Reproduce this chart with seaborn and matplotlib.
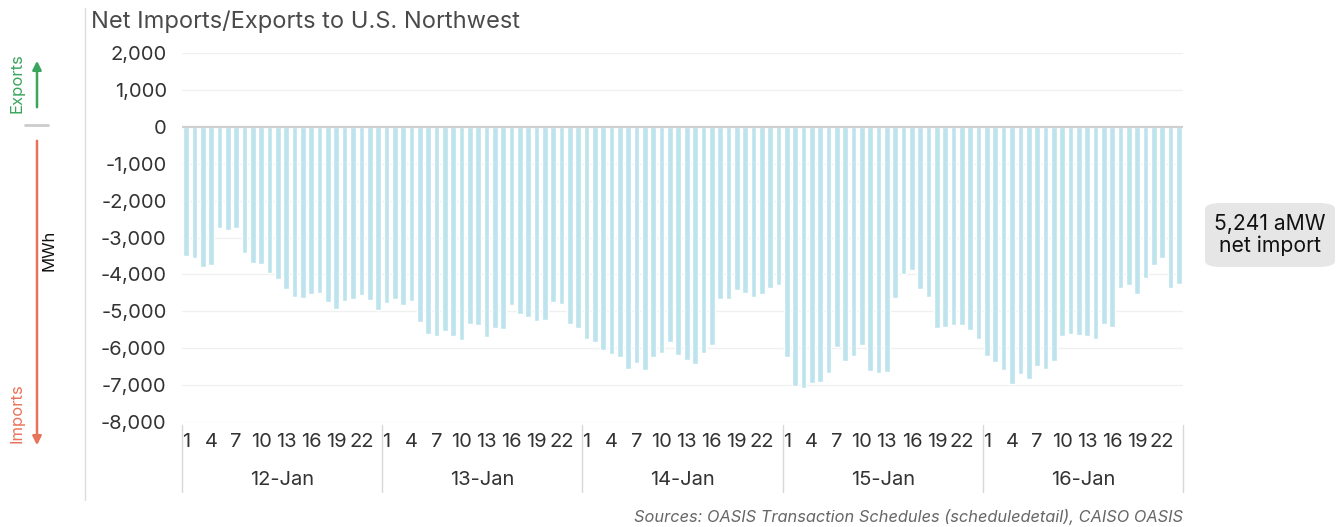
import numpy as np
import pandas as pd
import matplotlib
matplotlib.use("Agg")
import matplotlib.pyplot as plt
import matplotlib.transforms as mtransforms
from matplotlib.patches import FancyBboxPatch, FancyArrowPatch
import seaborn as sns

days = ["12-Jan", "13-Jan", "14-Jan", "15-Jan", "16-Jan"]
hours = list(range(1, 25))
hour_ticks = [1, 4, 7, 10, 13, 16, 19, 22]

jan12 = [-3505, -3560, -3790, -3755, -2750, -2785, -2730, -3425, -3700, -3710, -3975, -4115,
         -4395, -4620, -4650, -4520, -4495, -4755, -4930, -4730, -4665, -4550, -4695, -4965]
jan13 = [-4775, -4660, -4840, -4730, -5295, -5620, -5665, -5530, -5660, -5765, -5350, -5360,
         -5695, -5450, -5485, -4840, -5070, -5145, -5250, -5245, -4755, -4810, -5335, -5460]
jan14 = [-5755, -5840, -6045, -6160, -6245, -6575, -6395, -6595, -6245, -6125, -5830, -6190,
         -6325, -6425, -6125, -5920, -4660, -4675, -4430, -4505, -4615, -4530, -4380, -4280]
jan15 = [-6250, -7020, -7090, -6955, -6910, -6665, -5965, -6335, -6200, -5910, -6630, -6660,
         -6640, -4630, -3980, -3875, -4395, -4620, -5460, -5425, -5380, -5380, -5495, -5740]
jan16 = [-6205, -6370, -6595, -6975, -6695, -6830, -6470, -6575, -6335, -5665, -5610, -5640,
         -5665, -5740, -5350, -5430, -4360, -4295, -4520, -4110, -3750, -3560, -4360, -4270]

y_ticks = [2000, 1000, 0, -1000, -2000, -3000, -4000, -5000, -6000, -7000, -8000]
title = "Net Imports/Exports to U.S. Northwest"
source = "Sources: OASIS Transaction Schedules (scheduledetail), CAISO OASIS"
callout = "5,241 aMW\nnet import"

series = [jan12, jan13, jan14, jan15, jan16]
rows = []
for d, vals in zip(days, series):
    for h, v in zip(hours, vals):
        rows.append({"day": d, "hour": h, "slot": f"{d} {h}", "value": v})
df = pd.DataFrame(rows)

sns.set_theme(style="white")
plt.rcParams["font.family"] = ["Inter", "DejaVu Sans"]

W, H = 1342, 527
fig = plt.figure(figsize=(W / 100, H / 100), dpi=100)
ax = fig.add_axes([182 / W, 1 - 422 / H, (1183 - 182) / W, (422 - 53) / H])

sns.barplot(data=df, x="slot", y="value", order=list(df["slot"]), color="#bde3ec",
            saturation=1, width=0.68, ax=ax, zorder=3)

n = len(df)
ax.set_xlim(-0.5, n - 0.5)
ax.set_ylim(-8000, 2000)
for s in ax.spines.values():
    s.set_visible(False)

tick_color = "#333333"
ax.set_yticks(y_ticks)
ax.set_yticklabels([f"{t:,}" for t in y_ticks], fontsize=14.5, color=tick_color)
ax.tick_params(axis="y", length=0, pad=11)
for t in y_ticks:
    if t == 0:
        ax.axhline(0, color="#cfcfcf", lw=1.6, zorder=4)
    else:
        ax.axhline(t, color="#f0f0f0", lw=1.0, zorder=1)

pos = []
labs = []
for k, d in enumerate(days):
    for h in hour_ticks:
        pos.append(k * 24 + h - 1)
        labs.append(str(h))
ax.set_xticks(pos)
ax.set_xticklabels(labs, fontsize=14.5, color=tick_color)
ax.tick_params(axis="x", length=0, pad=8)
ax.set_xlabel("")
ax.set_ylabel("")

trans = mtransforms.blended_transform_factory(ax.transData, ax.transAxes)
ax_h = (422 - 53)
for k in range(len(days) + 1):
    x = -0.5 + 24 * k
    ax.plot([x, x], [-(425 - 422) / ax_h, -(492 - 422) / ax_h], color="#d8d8d8", lw=1,
            transform=trans, clip_on=False)
for k, d in enumerate(days):
    ax.text(k * 24 + 11.5, -(480 - 422) / ax_h, d, transform=trans, ha="center", va="center",
            fontsize=14.5, color=tick_color)

# title and source
fig.text(91 / W, 1 - 22 / H, title, ha="left", va="center", fontsize=17, color="#4a4a4a")
fig.text(1183 / W, 1 - 517 / H, source, ha="right", va="center", fontsize=11.8,
         style="italic", color="#666666")

# left divider
fig.add_artist(plt.Line2D([85 / W, 85 / W], [1 - 8 / H, 1 - 500 / H], color="#dddddd", lw=1))

# exports/imports arrows
green = "#3aa55d"
red = "#e9725a"
fig.add_artist(plt.Line2D([25 / W, 48 / W], [1 - 125 / H, 1 - 125 / H], color="#cccccc", lw=2))
fig.patches.append(FancyArrowPatch((37 / W, 1 - 110 / H), (37 / W, 1 - 58 / H),
                   transform=fig.transFigure, arrowstyle="-|>", mutation_scale=13,
                   color=green, lw=1.8))
fig.patches.append(FancyArrowPatch((37 / W, 1 - 138 / H), (37 / W, 1 - 448 / H),
                   transform=fig.transFigure, arrowstyle="-|>", mutation_scale=13,
                   color=red, lw=1.8))
fig.text(17 / W, 1 - 83 / H, "Exports", rotation=90, ha="center", va="center",
         fontsize=12, color=green)
fig.text(17 / W, 1 - 413 / H, "Imports", rotation=90, ha="center", va="center",
         fontsize=12, color=red)
fig.text(49 / W, 1 - 250 / H, "MWh", rotation=90, ha="center", va="center",
         fontsize=12, color="#111111")

# callout box
box = FancyBboxPatch((1205 / W, 1 - 267 / H), (1335 - 1205) / W, (267 - 203) / H,
                     boxstyle="round,pad=0,rounding_size=0.012", transform=fig.transFigure,
                     facecolor="#e6e6e6", edgecolor="none")
fig.patches.append(box)
fig.text(1270 / W, 1 - 235 / H, callout, ha="center", va="center", fontsize=15.2,
         color="#111111", linespacing=1.15)

fig.savefig("out.png", dpi=100)
